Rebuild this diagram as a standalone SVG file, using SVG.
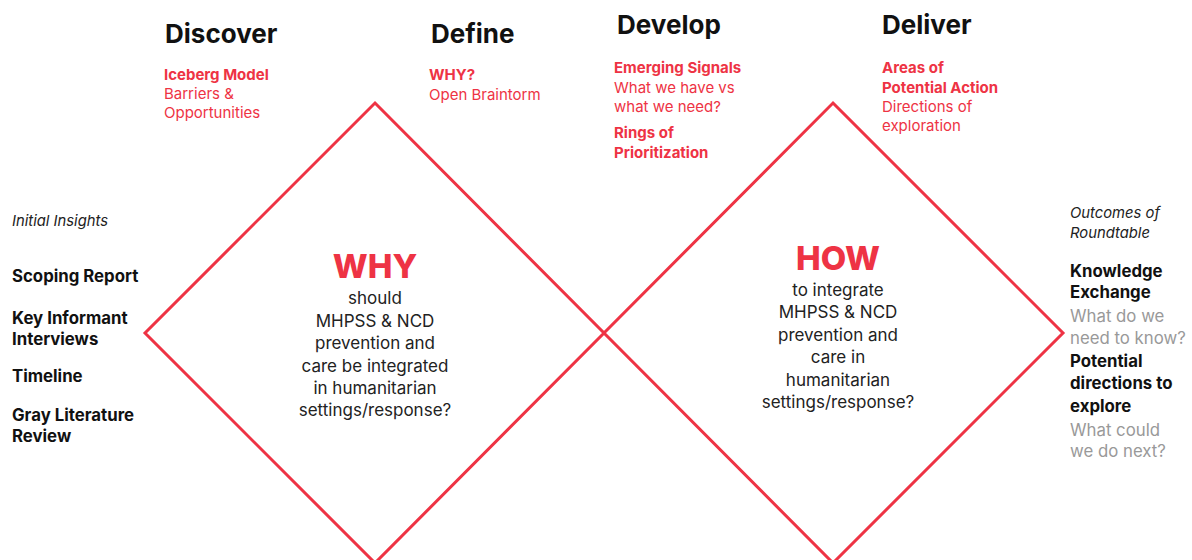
<svg xmlns="http://www.w3.org/2000/svg" width="1192" height="560" viewBox="0 0 1192 560">
<style>
text{font-family:Inter,"Noto Sans","Liberation Sans",sans-serif}
.h{font-size:26px;font-weight:700;fill:#111}
.rb{font-size:15px;font-weight:700;fill:#ee3344}
.r{font-size:15px;fill:#ee3344}
.it{font-size:14.8px;font-style:italic;fill:#222}
.kb{font-size:16.8px;font-weight:700;fill:#111}
.g{font-size:16.8px;fill:#999}
.big{font-size:33px;font-weight:800;fill:#ee3344;text-anchor:middle}
.c{font-size:17px;fill:#222;text-anchor:middle}
.d{fill:none;stroke:#ee3344;stroke-width:3}
</style>
<rect width="1192" height="560" fill="#fff"/>
<g id="connectors">
<polygon id="diamond-why" class="d" points="375,103 604,333 375,563 145,333"/>
<polygon id="diamond-how" class="d" points="833,103 1063,333 833,563 604,333"/>
</g>
<g id="discover">
<text class="h" x="165" y="43">Discover</text>
<text class="rb" x="164" y="80">Iceberg Model</text>
<text class="r" x="164" y="99">Barriers &amp;</text>
<text class="r" x="164" y="118">Opportunities</text>
</g>
<g id="define">
<text class="h" x="431" y="43">Define</text>
<text class="rb" x="429" y="80">WHY?</text>
<text class="r" x="429" y="100">Open Braintorm</text>
</g>
<g id="develop">
<text class="h" x="617" y="34">Develop</text>
<text class="rb" x="614" y="73">Emerging Signals</text>
<text class="r" x="614" y="93">What we have vs</text>
<text class="r" x="614" y="112">what we need?</text>
<text class="rb" x="614" y="138">Rings of</text>
<text class="rb" x="614" y="158">Prioritization</text>
</g>
<g id="deliver">
<text class="h" x="882" y="34">Deliver</text>
<text class="rb" x="882" y="73">Areas of</text>
<text class="rb" x="882" y="93">Potential Action</text>
<text class="r" x="882" y="112">Directions of</text>
<text class="r" x="882" y="131">exploration</text>
</g>
<g id="initial-insights">
<text class="it" x="12" y="226">Initial Insights</text>
<text class="kb" x="12" y="282">Scoping Report</text>
<text class="kb" x="12" y="324">Key Informant</text>
<text class="kb" x="12" y="345">Interviews</text>
<text class="kb" x="12" y="382">Timeline</text>
<text class="kb" x="12" y="421">Gray Literature</text>
<text class="kb" x="12" y="442">Review</text>
</g>
<g id="outcomes">
<text class="it" x="1070" y="218">Outcomes of</text>
<text class="it" x="1070" y="238">Roundtable</text>
<text class="kb" x="1070" y="277">Knowledge</text>
<text class="kb" x="1070" y="298">Exchange</text>
<text class="g" x="1070" y="322">What do we</text>
<text class="g" x="1070" y="344">need to know?</text>
<text class="kb" x="1070" y="367">Potential</text>
<text class="kb" x="1070" y="389">directions to</text>
<text class="kb" x="1070" y="412">explore</text>
<text class="g" x="1070" y="436">What could</text>
<text class="g" x="1070" y="457">we do next?</text>
</g>
<g id="why">
<text class="big" x="375" y="278">WHY</text>
<text class="c" x="375" y="304">should</text>
<text class="c" x="375" y="327">MHPSS &amp; NCD</text>
<text class="c" x="375" y="349">prevention and</text>
<text class="c" x="375" y="372">care be integrated</text>
<text class="c" x="375" y="394">in humanitarian</text>
<text class="c" x="375" y="416">settings/response?</text>
</g>
<g id="how">
<text class="big" x="838" y="270">HOW</text>
<text class="c" x="838" y="296">to integrate</text>
<text class="c" x="838" y="318">MHPSS &amp; NCD</text>
<text class="c" x="838" y="341">prevention and</text>
<text class="c" x="838" y="363">care in</text>
<text class="c" x="838" y="386">humanitarian</text>
<text class="c" x="838" y="408">settings/response?</text>
</g>
</svg>
